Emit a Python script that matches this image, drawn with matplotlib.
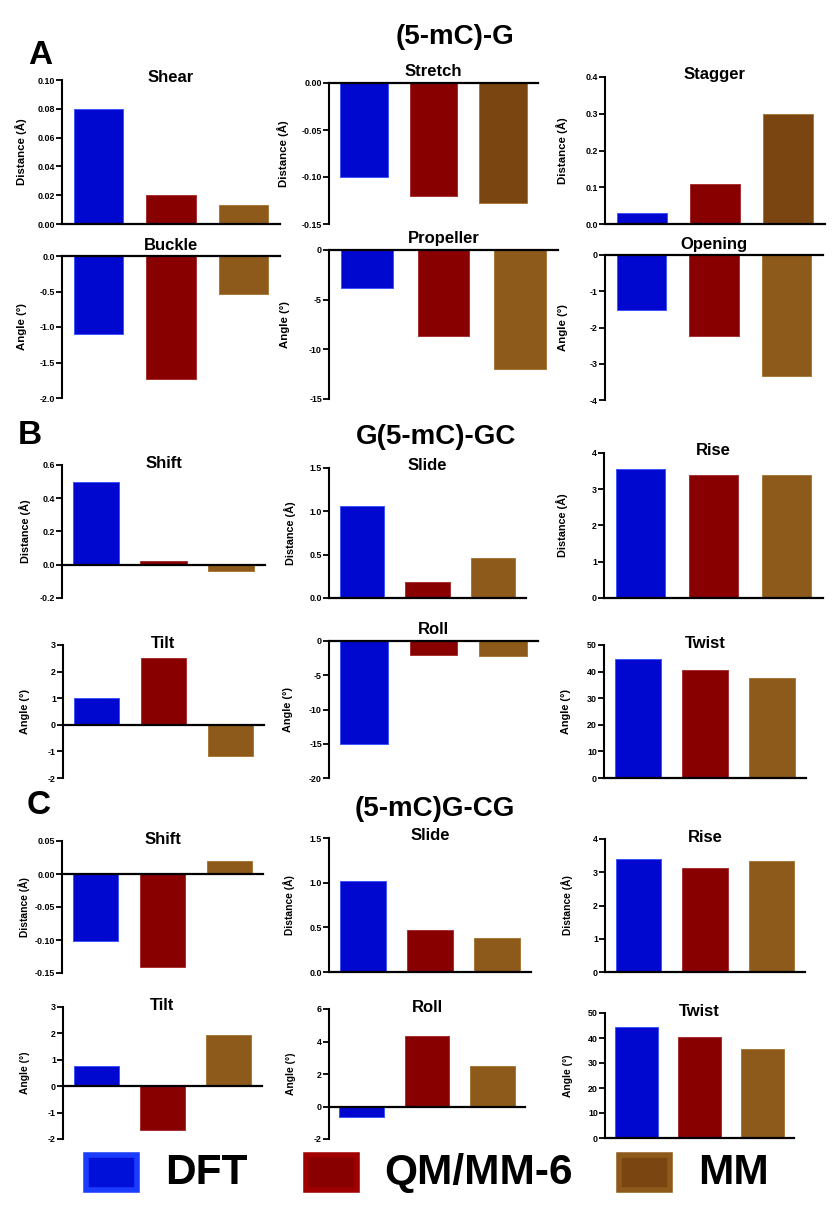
import matplotlib
matplotlib.use('Agg')
import matplotlib.pyplot as plt
import numpy as np
from matplotlib.patches import Rectangle
from matplotlib.ticker import FormatStrFormatter

plt.rcParams['font.family'] = ['Liberation Sans', 'DejaVu Sans']
plt.rcParams['font.weight'] = 'bold'
plt.rcParams['axes.unicode_minus'] = False

# ---------------- data ----------------
methods = ['DFT', 'QM/MM-6', 'MM']

# (A) (5-mC)-G base-pair parameters
shear = [0.080, 0.020, 0.013]
stretch = [-0.100, -0.120, -0.128]
stagger = [0.030, 0.110, 0.300]
buckle = [-1.10, -1.73, -0.53]
propeller = [-3.8, -8.7, -12.0]
opening = [-1.51, -2.23, -3.35]

# (B) G(5-mC)-GC step parameters
shift_b = [0.496, 0.024, -0.036]
slide_b = [1.06, 0.19, 0.46]
rise_b = [3.55, 3.39, 3.39]
tilt_b = [1.02, 2.52, -1.19]
roll_b = [-15.1, -2.1, -2.2]
twist_b = [44.6, 40.7, 37.7]

# (C) (5-mC)G-CG step parameters
shift_c = [-0.101, -0.141, 0.020]
slide_c = [1.02, 0.47, 0.38]
rise_c = [3.39, 3.14, 3.35]
tilt_c = [0.78, -1.67, 1.95]
roll_c = [-0.62, 4.35, 2.49]
twist_c = [44.4, 40.4, 35.6]

group_titles = ['(5-mC)-G', 'G(5-mC)-GC', '(5-mC)G-CG']
panel_letters = ['A', 'B', 'C']

# ---------------- styles / layout ----------------
W, H = 839, 1213
bar_colors = ['#0008D0', '#880000', '#8E5A1C']
bar_edges = ['#3A55FF', '#A83030', '#A87838']
dark_mm = '#7A4510'

DIST = 'Distance (Å)'
ANG = 'Angle (°)'

# name, values, L, R, T, B (px), ylim, step, fmt, ylabel, label offset px, label size, dark MM
panels = [
    ('Shear', shear, 62, 280, 80, 224, (0, 0.10), 0.02, '%.2f', DIST, 41, 8.2, False),
    ('Stretch', stretch, 329, 538, 83, 224, (-0.15, 0), 0.05, '%.2f', DIST, 46, 8.2, True),
    ('Stagger', stagger, 605, 825, 77, 224, (0, 0.4), 0.1, '%.1f', DIST, 43, 8.2, True),
    ('Buckle', buckle, 62, 280, 256, 398, (-2.0, 0), 0.5, '%.1f', ANG, 40, 8.2, False),
    ('Propeller', propeller, 329, 558, 250, 399, (-15, 0), 5, '%d', ANG, 44, 8.2, False),
    ('Opening', opening, 605, 823, 255, 400, (-4, 0), 1, '%d', ANG, 42, 8.2, False),
    ('Shift', shift_b, 62, 265, 465, 598, (-0.2, 0.6), 0.2, '%.1f', DIST, 37, 7.8, False),
    ('Slide', slide_b, 329, 526, 468, 598, (0, 1.5), 0.5, '%.1f', DIST, 39, 7.8, False),
    ('Rise', rise_b, 604, 823, 453, 598, (0, 4), 1, '%d', DIST, 42, 7.8, False),
    ('Tilt', tilt_b, 63, 264, 645, 778, (-2, 3), 1, '%d', ANG, 38, 7.8, False),
    ('Roll', roll_b, 329, 538, 641, 778, (-20, 0), 5, '%d', ANG, 41, 7.8, False),
    ('Twist', twist_b, 604, 806, 645, 778, (0, 50), 10, '%d', ANG, 38, 7.8, False),
    ('Shift', shift_c, 62, 263, 841, 973, (-0.15, 0.05), 0.05, '%.2f', DIST, 38, 7.4, False),
    ('Slide', slide_c, 329, 531, 838, 972, (0, 1.5), 0.5, '%.1f', DIST, 40, 7.4, False),
    ('Rise', rise_c, 605, 805, 839, 972, (0, 4), 1, '%d', DIST, 38, 7.4, False),
    ('Tilt', tilt_c, 63, 262, 1007, 1139, (-2, 3), 1, '%d', ANG, 38, 7.4, False),
    ('Roll', roll_c, 329, 525, 1009, 1139, (-2, 6), 2, '%d', ANG, 38, 7.4, False),
    ('Twist', twist_c, 605, 794, 1013, 1138, (0, 50), 10, '%d', ANG, 37, 7.4, False),
]

fig = plt.figure(figsize=(W / 100, H / 100), dpi=100)

for (name, vals, L, R, T, B, ylim, step, fmt, ylab, loff, lsize, dark) in panels:
    wpx, hpx = R - L, B - T
    ax = fig.add_axes([L / W, 1 - B / H, wpx / W, hpx / H])
    cols = list(bar_colors)
    if dark:
        cols[2] = dark_mm
    ax.bar(np.arange(len(vals)), vals, width=0.68, color=cols,
           edgecolor=bar_edges, linewidth=0.7, zorder=2)
    ax.set_xlim(-0.5, 2.5)
    ax.set_ylim(*ylim)
    ax.axhline(0, color='black', lw=1.6, zorder=4, clip_on=False)
    for s in ['top', 'right', 'bottom']:
        ax.spines[s].set_visible(False)
    ax.spines['left'].set_linewidth(1.5)
    ax.set_xticks([])
    ticks = np.round(np.arange(ylim[0], ylim[1] + step / 2, step), 6)
    ax.set_yticks(ticks)
    ax.yaxis.set_major_formatter(FormatStrFormatter(fmt))
    ax.tick_params(axis='y', direction='out', length=4.6, width=1.3,
                   labelsize=6.4, pad=0.5)
    for lb in ax.get_yticklabels():
        lb.set_fontweight('bold')
    ax.patch.set_visible(False)
    off = 11 if ylim[1] == 0 else 2
    ax.text(0.5, 1 + off / hpx, name, transform=ax.transAxes, ha='center',
            va='center', fontsize=12, fontweight='bold', zorder=6)
    ax.text(-loff / wpx, 0.5, ylab, transform=ax.transAxes, rotation=90,
            ha='center', va='center', fontsize=lsize, fontweight='bold')

# group titles and letters
title_pos = [(455, 37), (436, 437), (435, 809)]
letter_pos = [(40, 55), (30, 435), (39, 806)]
for t, (x, y) in zip(group_titles, title_pos):
    fig.text(x / W, 1 - y / H, t, ha='center', va='center', fontsize=20,
             fontweight='bold')
for t, (x, y) in zip(panel_letters, letter_pos):
    fig.text(x / W, 1 - y / H, t, ha='center', va='center', fontsize=24,
             fontweight='bold')

# legend
leg_inner = ['#0010D8', '#880000', dark_mm]
leg_outer = ['#1A3CFF', '#A00000', '#8E5A1C']
patch_x = [84, 304, 617]
text_x = [165, 384, 698]
py0, py1 = 1153, 1192
for m, px, tx, ci, co in zip(methods, patch_x, text_x, leg_inner, leg_outer):
    fig.add_artist(Rectangle(((px + 2) / W, 1 - (py1 - 2) / H), 51 / W,
                             (py1 - py0 - 4) / H, transform=fig.transFigure,
                             facecolor=ci, edgecolor=co, linewidth=4))
    fig.text(tx / W, 1 - 1173 / H, m, ha='left', va='center', fontsize=30.5,
             fontweight='bold')

fig.savefig('out.png', dpi=100)
